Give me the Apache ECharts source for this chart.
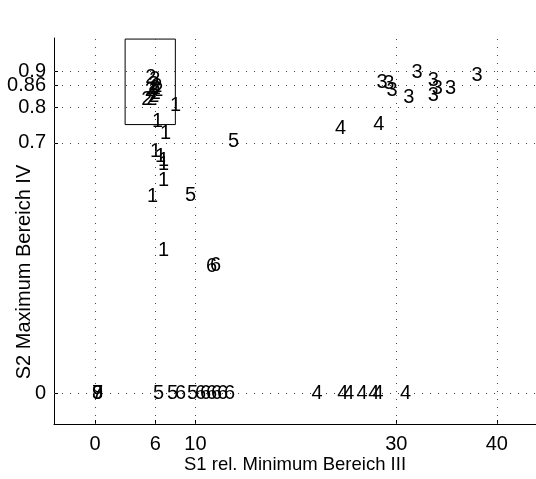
<!DOCTYPE html>
<html>
<head>
<meta charset="utf-8">
<script src="https://cdn.jsdelivr.net/npm/echarts@6/dist/echarts.min.js"></script>
<style>
html,body{margin:0;padding:0;background:#fff;}
#chart{width:536px;height:479px;}
</style>
</head>
<body>
<div id="chart"></div>
<script>
// Axis ticks
const xTicks = [0, 6, 10, 30, 40];
const yTicks = [0, 0.7, 0.8, 0.86, 0.9];
const yTicksA = [0, 0.7, 0.8, 0.9];   // labels on the main axis
const yTicksB = [0.86];               // label that overlaps 0.9 (second axis so it is not hidden)
const xTitle = 'S1 rel. Minimum Bereich III';
const yTitle = 'S2 Maximum Bereich IV';

// Point groups: each point is drawn as its group digit
const group1 = [[7.46,0.803],[5.67,0.759],[6.47,0.726],[5.47,0.677],[5.97,0.663],[6.27,0.652],[6.27,0.640],[6.27,0.594],[5.17,0.549],[6.27,0.400]];
const group2 = [[5.0,0.883],[5.4,0.876],[5.3,0.862],[5.45,0.852],[5.6,0.857],[5.7,0.845],[5.45,0.838],[4.95,0.846],[5.3,0.83],[4.6,0.822],[5.1,0.82]];
const group3 = [[28.03,0.870],[28.69,0.866],[29.02,0.847],[31.51,0.898],[30.68,0.826],[33.13,0.875],[33.53,0.852],[33.13,0.833],[34.83,0.853],[37.48,0.889]];
const group4 = [[23.88,0.740],[27.69,0.752],[21.56,0],[24.11,0],[24.71,0],[26.04,0],[27.19,0],[27.63,0],[30.35,0]];
const group5 = [[13.23,0.705],[8.96,0.552],[5.77,0],[7.16,0],[9.15,0]];
const group6 = [[11.04,0.353],[11.44,0.358],[7.96,0],[9.95,0],[10.45,0],[11.04,0],[11.54,0],[12.14,0],[12.84,0]];
const group7 = [[-0.3,0]];
const group8 = [[-0.3,0]];
const group9 = [[-0.3,0]];
const groups = [['1',group1],['2',group2],['3',group3],['4',group4],['5',group5],['6',group6],['7',group7],['8',group8],['9',group9]];

// Highlight box (data units)
const boxX = [3, 8];
const boxY = [0.751, 0.99];

const FONT = 'Liberation Sans, Arial, Helvetica, sans-serif';
const FS = 20;
const FS_TITLE_X = 18.5;
const Y_MIN = -0.086, Y_MAX = 0.993;

const chart = echarts.init(document.getElementById('chart'), null, {renderer: 'canvas'});

const textSeries = groups.map(([lab, pts]) => ({
  type: 'custom',
  silent: true,
  data: pts,
  clip: false,
  renderItem: (params, api) => {
    const p = api.coord([api.value(0), api.value(1)]);
    return {
      type: 'text',
      x: p[0], y: p[1],
      style: {text: lab, fill: '#000', fontSize: FS, fontFamily: FONT, align: 'left', verticalAlign: 'middle'}
    };
  }
}));

const gridLines = {
  type: 'line', data: [], silent: true,
  markLine: {
    silent: true, symbol: 'none', animation: false,
    label: {show: false},
    lineStyle: {type: [1, 7], color: '#444', width: 1},
    data: xTicks.map(v => ({xAxis: v})).concat(yTicks.map(v => ({yAxis: v})))
  }
};

const boxSeries = {
  type: 'line', silent: true, symbol: 'none', animation: false,
  lineStyle: {color: '#000', width: 1},
  data: [[boxX[0],boxY[0]],[boxX[1],boxY[0]],[boxX[1],boxY[1]],[boxX[0],boxY[1]],[boxX[0],boxY[0]]]
};

const yLabelStyle = {hideOverlap: false, color: '#000', fontSize: FS, fontFamily: FONT, margin: 8};

chart.setOption({
  animation: false,
  backgroundColor: '#fff',
  grid: {left: 54, right: 0, top: 38, bottom: 55},
  xAxis: {
    type: 'value', min: -4.08, max: 43.9,
    axisLine: {show: true, onZero: false, lineStyle: {color: '#000', width: 1}},
    axisTick: {show: true, inside: true, length: 4, customValues: xTicks, lineStyle: {color: '#000'}},
    axisLabel: {customValues: xTicks, hideOverlap: false, color: '#000', fontSize: FS, fontFamily: FONT, margin: 10},
    splitLine: {show: false}
  },
  yAxis: [{
    type: 'value', min: Y_MIN, max: Y_MAX,
    axisLine: {show: true, onZero: false, lineStyle: {color: '#000', width: 1}},
    axisTick: {show: true, inside: true, length: 4, customValues: yTicks, lineStyle: {color: '#000'}},
    axisLabel: Object.assign({customValues: yTicksA}, yLabelStyle),
    splitLine: {show: false}
  }, {
    type: 'value', min: Y_MIN, max: Y_MAX, position: 'left', offset: 0,
    axisLine: {show: false}, axisTick: {show: false},
    axisLabel: Object.assign({customValues: yTicksB}, yLabelStyle),
    splitLine: {show: false}
  }],
  graphic: [
    {type: 'text', x: 295, y: 465, style: {text: xTitle, fill: '#000', fontSize: FS_TITLE_X, fontFamily: FONT, align: 'center', verticalAlign: 'middle'}},
    {type: 'text', x: 24, y: 272, rotation: Math.PI / 2, style: {text: yTitle, fill: '#000', fontSize: 20, fontFamily: FONT, align: 'center', verticalAlign: 'middle'}}
  ],
  series: [gridLines, boxSeries].concat(textSeries)
});
</script>
</body>
</html>
